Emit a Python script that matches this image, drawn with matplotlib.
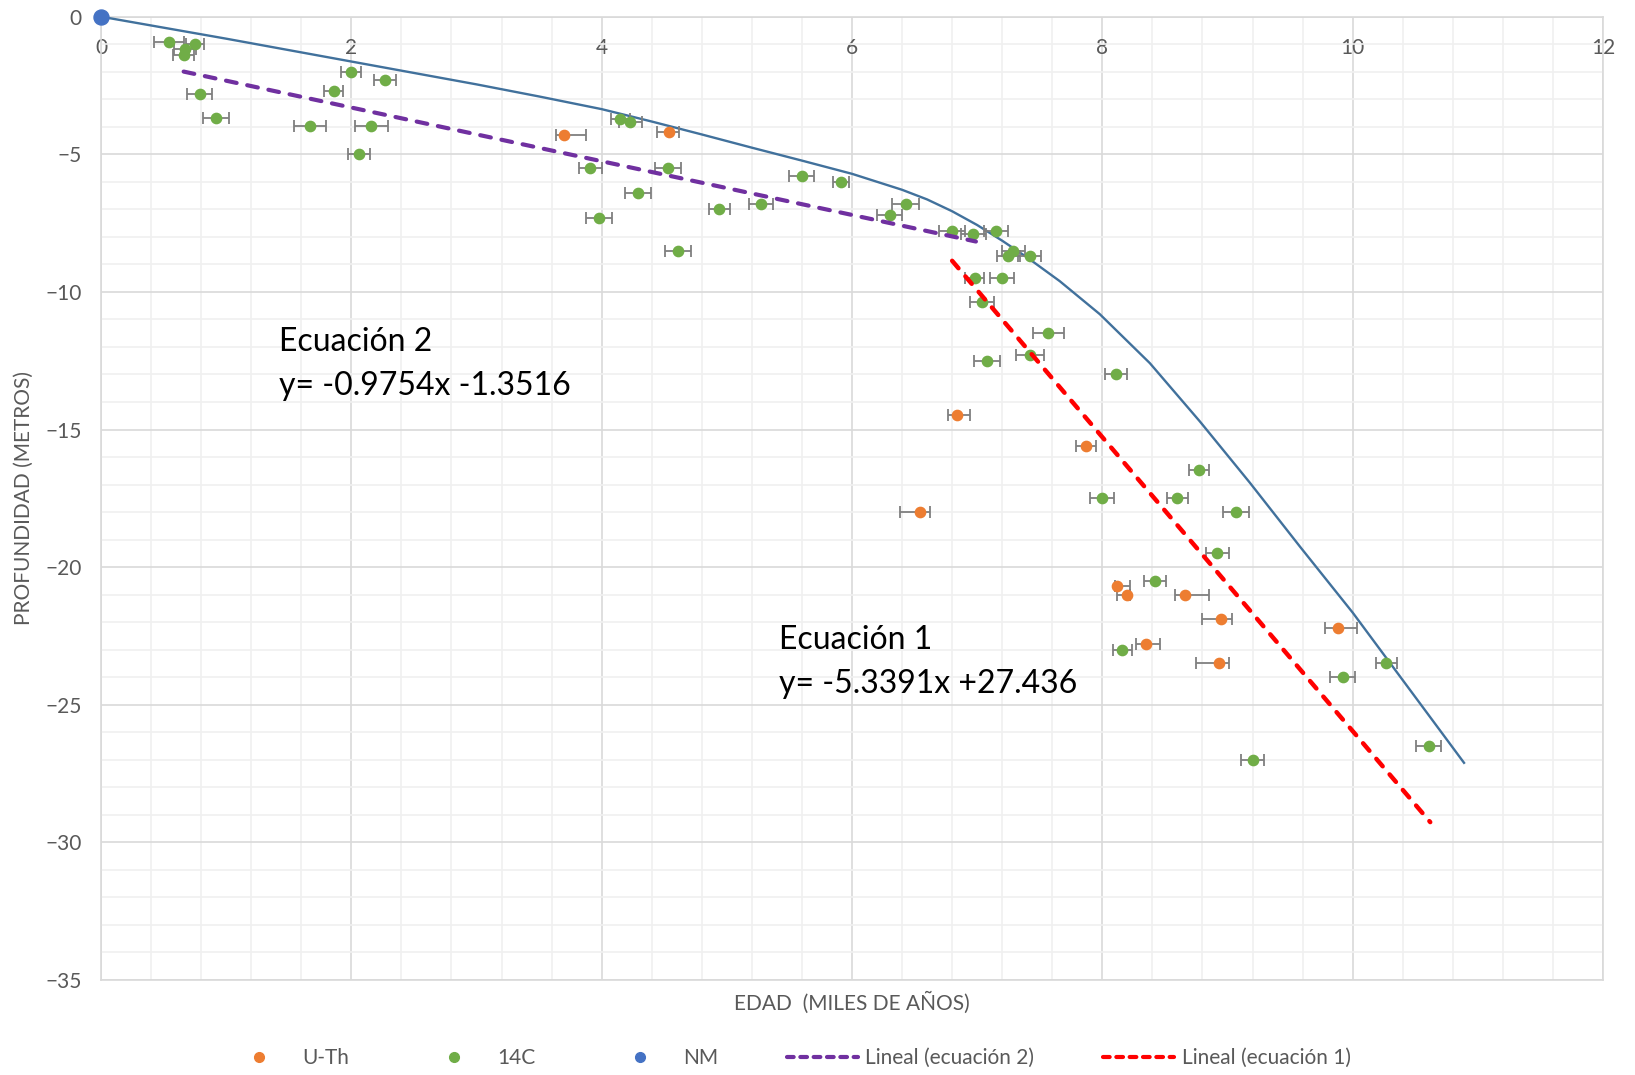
import matplotlib

matplotlib.use("Agg")
import matplotlib.pyplot as plt
import numpy as np
from matplotlib.lines import Line2D
from matplotlib.ticker import MultipleLocator

plt.rcParams["font.family"] = ["Lato", "DejaVu Sans"]

# U-Th dates: age (ka), depth (m), age error below / above
uth_age = [3.70, 4.54, 6.84, 7.87, 6.54, 8.12, 8.20, 8.66, 8.95, 9.88, 8.35, 8.93]
uth_depth = [-4.30, -4.20, -14.49, -15.59, -18.0, -20.67, -21.0, -21.0, -21.9, -22.2, -22.78, -23.5]
uth_err_lo = [0.064, 0.10, 0.075, 0.08, 0.16, 0.02, 0.084, 0.078, 0.15, 0.10, 0.078, 0.18]
uth_err_hi = [0.178, 0.078, 0.106, 0.08, 0.085, 0.10, 0.02, 0.19, 0.084, 0.157, 0.11, 0.08]

# 14C dates: age (ka), depth (m), symmetric age error
c14_age = [0.54, 0.75, 0.67, 0.66, 0.79, 0.92, 2.00, 2.27, 1.86, 1.67, 2.16, 2.06,
           4.15, 4.23, 3.91, 4.53, 4.29, 3.98, 4.61, 4.94, 5.27, 5.60, 5.91, 6.43,
           6.30, 6.80, 6.97, 7.15, 7.25, 7.29, 7.42, 6.98, 7.20, 7.04, 7.57, 7.42,
           7.08, 8.11, 8.77, 8.00, 8.60, 9.07, 8.92, 8.42, 8.16, 10.27, 9.92, 10.61, 9.20]
c14_depth = [-0.91, -1.00, -1.18, -1.39, -2.81, -3.69, -2.00, -2.30, -2.70, -3.99, -3.99, -5.00,
             -3.71, -3.81, -5.50, -5.50, -6.39, -7.30, -8.50, -6.99, -6.80, -5.80, -6.00, -6.80,
             -7.20, -7.80, -7.89, -7.80, -8.69, -8.53, -8.69, -9.50, -9.50, -10.38, -11.50, -12.30,
             -12.50, -12.98, -16.48, -17.49, -17.49, -18.00, -19.48, -20.50, -23.00, -23.50, -24.00,
             -26.50, -27.00]
c14_err = [0.12, 0.07, 0.085, 0.085, 0.10, 0.105, 0.08, 0.09, 0.075, 0.13, 0.13, 0.087,
           0.076, 0.09, 0.09, 0.10, 0.107, 0.104, 0.107, 0.085, 0.095, 0.10, 0.065, 0.107,
           0.10, 0.105, 0.10, 0.095, 0.09, 0.09, 0.09, 0.075, 0.095, 0.097, 0.12, 0.113,
           0.106, 0.085, 0.08, 0.095, 0.085, 0.105, 0.095, 0.085, 0.075, 0.085, 0.10, 0.10, 0.095]

# present sea level
nm_age = [0.0]
nm_depth = [0.0]

# sea-level curve
curve_age = [0.0, 1.0, 2.0, 3.0, 3.5, 4.0, 4.4, 4.8, 5.2, 5.6, 6.0, 6.4, 6.6, 6.8, 7.0,
             7.2, 7.4, 7.66, 7.98, 8.38, 8.78, 9.18, 9.58, 10.0, 10.89]
curve_depth = [0.0, -0.80, -1.63, -2.46, -2.90, -3.36, -3.81, -4.28, -4.76, -5.23, -5.71,
               -6.29, -6.64, -7.07, -7.57, -8.14, -8.75, -9.61, -10.81, -12.59, -14.71,
               -16.94, -19.26, -21.65, -27.11]

# linear trendlines: slope, intercept, age range
eq2_slope, eq2_icpt, eq2_range = -0.9754, -1.3516, (0.66, 6.99)
eq1_slope, eq1_icpt, eq1_range = -5.3391, 27.436, (6.80, 10.62)

C_UTH = "#ed7d31"
C_C14 = "#70ad47"
C_NM = "#4472c4"
C_EQ2 = "#7030a0"
C_EQ1 = "#ff0000"
C_CURVE = "#41719c"
C_TXT = "#595959"
C_ERR = "#7f7f7f"

fig = plt.figure(figsize=(16.35, 10.75), dpi=100, facecolor="white")
ax = fig.add_axes([0.0618, 0.0884, 0.9186, 0.8961])

ax.set_xlim(0, 12)
ax.set_ylim(-35, 0)
ax.xaxis.set_major_locator(MultipleLocator(2))
ax.xaxis.set_minor_locator(MultipleLocator(0.4))
ax.yaxis.set_major_locator(MultipleLocator(5))
ax.yaxis.set_minor_locator(MultipleLocator(1))
ax.grid(which="major", color="#d9d9d9", linewidth=1.2)
ax.grid(which="minor", color="#f0f0f0", linewidth=1.2)
ax.set_axisbelow(True)
for sp in ax.spines.values():
    sp.set_color("#d9d9d9")
    sp.set_linewidth(1.2)

ax.xaxis.tick_top()
ax.tick_params(axis="x", which="both", length=0, pad=-30, labelsize=15, labelcolor=C_TXT)
ax.tick_params(axis="y", which="both", length=0, pad=14, labelsize=15, labelcolor=C_TXT)

ax.plot(curve_age, curve_depth, color=C_CURVE, linewidth=1.7, zorder=3,
        solid_joinstyle="round")

eb = dict(fmt="o", markersize=7.4, ecolor=C_ERR, elinewidth=1.3, capsize=4, capthick=1.3, zorder=4)
ax.errorbar(c14_age, c14_depth, xerr=c14_err, color=C_C14, **eb)
ax.errorbar(uth_age, uth_depth, xerr=[uth_err_lo, uth_err_hi], color=C_UTH, **eb)
ax.plot(nm_age, nm_depth, "o", markersize=10.8, color=C_NM, clip_on=False, zorder=6)

x2 = np.array(eq2_range)
x1 = np.array(eq1_range)
ax.plot(x2, eq2_slope * x2 + eq2_icpt, color=C_EQ2, linewidth=3.0,
        dashes=(2.6, 2.6), dash_capstyle="round", zorder=5)
ax.plot(x1, eq1_slope * x1 + eq1_icpt, color=C_EQ1, linewidth=3.2,
        dashes=(2.2, 2.4), dash_capstyle="round", zorder=5)

ax.text(1.42, -12.14, "Ecuación 2", fontsize=23, color="black", va="baseline")
ax.text(1.42, -13.75, "y= -0.9754x -1.3516", fontsize=23, color="black", va="baseline")
ax.text(5.42, -22.97, "Ecuación 1", fontsize=23, color="black", va="baseline")
ax.text(5.42, -24.58, "y= -5.3391x +27.436", fontsize=23, color="black", va="baseline")

ax.set_xlabel("EDAD  (MILES DE AÑOS)", fontsize=15, color=C_TXT)
ax.xaxis.set_label_position("bottom")
ax.xaxis.set_label_coords(0.5, -0.012)
ax.set_ylabel("PROFUNDIDAD (METROS)", fontsize=15, color=C_TXT)
ax.yaxis.set_label_coords(-0.045, 0.5)

handles = [
    Line2D([], [], linestyle="none", marker="o", markersize=7, color=C_UTH),
    Line2D([], [], linestyle="none", marker="o", markersize=7, color=C_C14),
    Line2D([], [], linestyle="none", marker="o", markersize=7, color=C_NM),
    Line2D([], [], color=C_EQ2, linewidth=3.0, dashes=(1.6, 1.6), dash_capstyle="round"),
    Line2D([], [], color=C_EQ1, linewidth=3.0, dashes=(1.6, 1.6), dash_capstyle="round"),
]
labels = ["U-Th", "14C", "NM", "Lineal (ecuación 2)", "Lineal (ecuación 1)"]
leg = fig.legend(handles, labels, loc="center left", bbox_to_anchor=(0.137, 0.0155),
                 ncol=5, frameon=False, fontsize=15, handlelength=3.4, handletextpad=0.38,
                 columnspacing=3.3, borderpad=0, borderaxespad=0)
for t in leg.get_texts():
    t.set_color(C_TXT)

fig.savefig("out.png", dpi=100, facecolor="white")
